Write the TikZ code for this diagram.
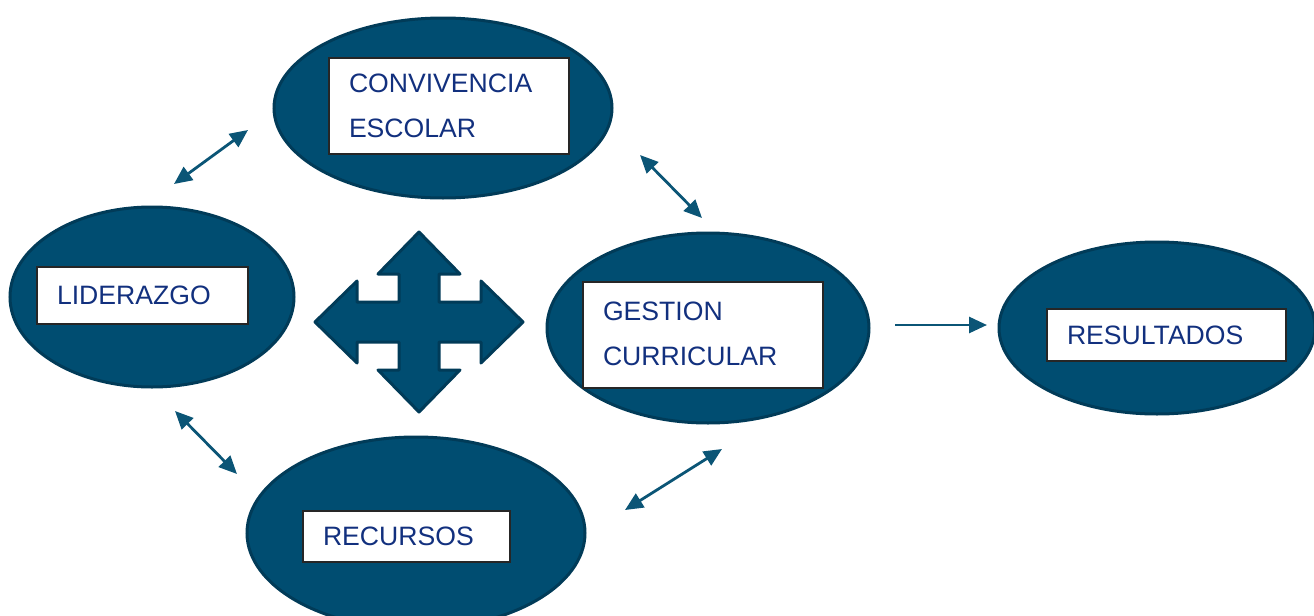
\documentclass[tikz,border=0pt]{standalone}
\usepackage{fontspec}
\setmainfont{Liberation Sans}
\usetikzlibrary{arrows.meta,shapes.geometric}
\definecolor{ellfill}{HTML}{004D71}
\definecolor{elldraw}{HTML}{013B58}
\definecolor{arrcol}{HTML}{0B5576}
\definecolor{txtcol}{HTML}{12307E}
\tikzset{
  blob/.style={ellipse, fill=ellfill, draw=elldraw, line width=1.5pt, inner sep=0pt},
  label box/.style={rectangle, fill=white, draw=black!85, line width=0.7pt, align=left,
    inner xsep=10pt, inner ysep=0pt, text=txtcol, font=\fontsize{13.3}{22.5}\selectfont, anchor=center},
  dbl/.style={{Triangle[length=9pt,width=8pt]}-{Triangle[length=9pt,width=8pt]}, draw=arrcol, line width=1.4pt},
  sgl/.style={-{Triangle[length=9pt,width=8pt]}, draw=arrcol, line width=1.4pt}
}
\begin{document}
\begin{tikzpicture}[x=0.5pt,y=-0.5pt]
\useasboundingbox (0,0) rectangle (1314,616);
\clip (0,0) rectangle (1314,616);
% ellipses
\node[blob, minimum width=169pt, minimum height=90pt] (conv) at (443,108) {};
\node[blob, minimum width=142pt, minimum height=90pt] (lid) at (152,297) {};
\node[blob, minimum width=161pt, minimum height=95pt] (gest) at (708,328) {};
\node[blob, minimum width=158pt, minimum height=86pt] (res) at (1157,328) {};
\node[blob, minimum width=169pt, minimum height=96pt] (rec) at (416,533) {};
% text boxes
\node[label box, minimum width=120pt, minimum height=48pt, text width=100pt] (tconv) at (449,106) {\raisebox{-1pt}{CONVIVENCIA}\\\raisebox{-1pt}{ESCOLAR}};
\node[label box, minimum width=105.5pt, minimum height=28.5pt, text width=85.5pt] (tlid) at (142.5,295.5) {LIDERAZGO};
\node[label box, minimum width=120pt, minimum height=53pt, text width=100pt] (tgest) at (703,335) {\raisebox{1pt}{GESTION}\\\raisebox{1pt}{CURRICULAR}};
\node[label box, minimum width=119.5pt, minimum height=26pt, text width=99.5pt] (tres) at (1166.5,335) {RESULTADOS};
\node[label box, minimum width=103.5pt, minimum height=25.5pt, text width=83.5pt] (trec) at (406.5,536.5) {\raisebox{-1pt}{RECURSOS}};
% cross arrow
\draw[fill=ellfill, draw=elldraw, line width=1.5pt, line join=round]
  (419,322) ++(0,-90) -- ++(41,42) -- ++(-21,0) -- ++(0,28) -- ++(42,0) -- ++(0,-21)
  -- ++(42,41) -- ++(-42,41) -- ++(0,-21) -- ++(-42,0) -- ++(0,28) -- ++(21,0)
  -- ++(-41,42) -- ++(-41,-42) -- ++(21,0) -- ++(0,-28) -- ++(-42,0) -- ++(0,21)
  -- ++(-42,-41) -- ++(42,-41) -- ++(0,21) -- ++(42,0) -- ++(0,-28) -- ++(-21,0) -- cycle;
% connector end points
\coordinate (a1) at (174,184); \coordinate (a2) at (248,130);
\coordinate (b1) at (640,155); \coordinate (b2) at (702,218);
\coordinate (c1) at (175,411); \coordinate (c2) at (237,474);
\coordinate (d1) at (625,510); \coordinate (d2) at (722,449);
\coordinate (e1) at (895,325); \coordinate (e2) at (987,325);
\draw[dbl] (a1) -- (a2);
\draw[dbl] (b1) -- (b2);
\draw[dbl] (c1) -- (c2);
\draw[dbl] (d1) -- (d2);
\draw[sgl] (e1) -- (e2);
\end{tikzpicture}
\end{document}
